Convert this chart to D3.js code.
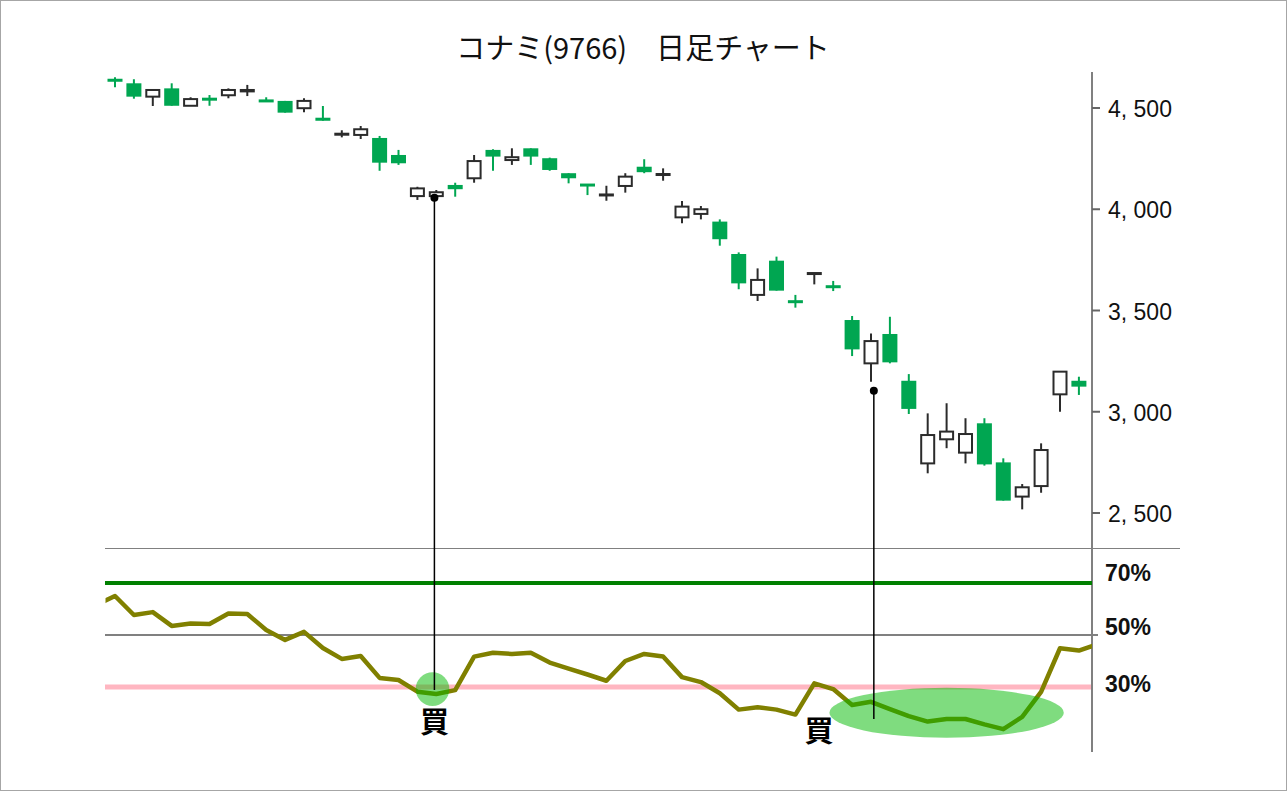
<!DOCTYPE html>
<html><head><meta charset="utf-8">
<script src="https://cdn.jsdelivr.net/npm/d3@7/dist/d3.min.js"></script>
<style>body{margin:0;background:#fff}svg{display:block}</style>
</head><body><svg id="c" width="1287" height="791"></svg>
<script>
// ---- data ----
const title = "コナミ(9766)　日足チャート";
const days = d3.range(0, 52);
const opens  = [4641,4622,4556,4597,4511,4547,4563,4582,4540,4535,4499,4452,4370,4367,4352,4268,4065,4065,4120,4153,4293,4243,4301,4252,4178,4122,4070,4115,4210,4171,3960,3977,3939,3779,3577,3746,3547,3680,3621,3453,3239,3384,3153,2745,2864,2798,2943,2750,2581,2633,3086,3153];
const highs  = [4652,4642,4592,4622,4553,4564,4597,4614,4553,4535,4548,4510,4390,4411,4362,4293,4111,4095,4131,4268,4296,4301,4301,4255,4178,4123,4116,4178,4247,4202,4041,4016,3950,3787,3708,3766,3577,3685,3646,3473,3387,3469,3186,2992,3042,2968,2968,2770,2643,2844,3198,3173];
const lows   = [4602,4546,4510,4511,4511,4511,4548,4559,4530,4477,4479,4437,4355,4347,4190,4219,4046,4057,4062,4131,4190,4219,4219,4190,4128,4070,4042,4082,4178,4141,3931,3950,3820,3605,3547,3598,3514,3629,3596,3275,3148,3239,2989,2696,2820,2745,2734,2561,2518,2600,3000,3083];
const closes = [4633,4556,4589,4511,4544,4540,4589,4589,4530,4477,4535,4437,4373,4395,4230,4227,4103,4084,4099,4238,4260,4257,4260,4194,4153,4117,4073,4161,4183,4174,4013,4000,3852,3634,3651,3598,3540,3685,3614,3308,3349,3244,3014,2885,2902,2890,2740,2561,2627,2811,3198,3124];
const priceTicks = [2500, 3000, 3500, 4000, 4500];
const priceTickLabels = ["2, 500", "3, 000", "3, 500", "4, 000", "4, 500"];
// oscillator (%), one day before and one day after the visible window included
const oscDays = d3.range(-1, 53);
const oscValues = [61.5,65.0,57.7,58.8,53.5,54.4,54.2,58.3,58.1,51.9,48.1,51.2,45.0,40.8,41.9,33.5,32.7,28.2,27.3,28.8,41.7,43.2,42.7,43.2,39.4,37.1,34.8,32.4,40.0,42.7,41.7,33.8,31.9,27.6,21.3,22.2,21.3,19.4,31.4,29.2,23.1,24.3,21.5,18.8,16.7,17.7,17.7,15.6,13.8,18.5,28.1,44.9,44.0,46.5];
const oscTicks = [70, 50, 30];
const oscTickLabels = ["70%", "50%", "30%"];
// buy signals: marker position (day, price), line end (%), label position (day, %)
const signalDays = [16.9, 40.15];
const signalPrices = [4057, 3104];
const signalEndPct = [28.8, 17.7];
const signalLabelDays = [16.9, 37.25];
const signalLabelPct = [15.3, 11.8];
// highlighted zones (day centre, %, radius in days, radius in %)
const zoneDays = [16.8, 44.0];
const zonePct = [29.2, 20.1];
const zoneRDays = [0.89, 6.2];
const zoneRPct = [6.5, 9.6];

// ---- scales ----
const svg = d3.select("#c");
const W = 1287, H = 791;
const x = d3.scaleLinear().domain([-0.5, 51.5]).range([105.55, 1088.35]);
const y = d3.scaleLinear().domain([2500, 4500]).range([513, 108]);
const yo = d3.scaleLinear().domain([30, 70]).range([687, 583]);
const axisX = 1092;
const bodyW = 15;

svg.append("rect").attr("x", 0.5).attr("y", 0.5).attr("width", W - 1).attr("height", H - 1)
  .attr("fill", "#fff").attr("stroke", "#a6a6a6");

// title
svg.append("text").attr("x", 643).attr("y", 51).attr("text-anchor", "middle")
  .attr("dominant-baseline", "middle")
  .style("font-family", "'Noto Sans CJK JP','Noto Sans',sans-serif").style("font-size", "29px")
  .attr("fill", "#111").text(title);

// separator line
svg.append("line").attr("x1", 105).attr("x2", 1180).attr("y1", 548.5).attr("y2", 548.5)
  .attr("stroke", "#808080").attr("stroke-width", 1);

// price axis
svg.append("line").attr("x1", axisX).attr("x2", axisX).attr("y1", 72).attr("y2", 752)
  .attr("stroke", "#808080").attr("stroke-width", 2);
const pAxis = svg.append("g");
pAxis.selectAll("line").data(priceTicks).join("line")
  .attr("x1", axisX).attr("x2", axisX + 8).attr("y1", d => y(d)).attr("y2", d => y(d))
  .attr("stroke", "#666").attr("stroke-width", 2);
pAxis.selectAll("text").data(priceTicks).join("text")
  .attr("x", 1108).attr("y", d => y(d) + 3).attr("dominant-baseline", "middle")
  .style("font-family", "'Liberation Sans',Arial,sans-serif").style("font-size", "23px")
  .attr("fill", "#111").text((d, i) => priceTickLabels[i]);

// candles
const cg = svg.append("g");
const green = "#00a651", dark = "#2b2b2b";
days.forEach(i => {
  const o = opens[i], c = closes[i], h = highs[i], l = lows[i];
  const down = c < o;
  const col = down ? green : dark;
  const cx = x(i);
  cg.append("line").attr("x1", cx).attr("x2", cx).attr("y1", y(h)).attr("y2", y(l))
    .attr("stroke", col).attr("stroke-width", 2);
  const top = y(Math.max(o, c)), bot = y(Math.min(o, c));
  if (down) {
    const hgt = Math.max(bot - top, 3);
    cg.append("rect").attr("x", cx - bodyW / 2).attr("y", (top + bot) / 2 - hgt / 2)
      .attr("width", bodyW).attr("height", hgt).attr("fill", green);
  } else {
    const hgt = Math.max(bot - top, 1);
    cg.append("rect").attr("x", cx - bodyW / 2 + 1).attr("y", top)
      .attr("width", bodyW - 2).attr("height", hgt)
      .attr("fill", "#fff").attr("stroke", dark).attr("stroke-width", 2);
  }
});

// oscillator reference lines
svg.append("line").attr("x1", 105).attr("x2", axisX).attr("y1", yo(70)).attr("y2", yo(70))
  .attr("stroke", "#008000").attr("stroke-width", 4);
svg.append("line").attr("x1", 105).attr("x2", 1098).attr("y1", yo(50)).attr("y2", yo(50))
  .attr("stroke", "#808080").attr("stroke-width", 2);
svg.append("line").attr("x1", 105).attr("x2", axisX - 1).attr("y1", yo(30)).attr("y2", yo(30))
  .attr("stroke", "#ffb6c1").attr("stroke-width", 5);

const oscLabelDy = [-8, -6, -1.5];
svg.selectAll("text.osc").data(oscTicks).join("text").attr("class", "osc")
  .attr("x", 1105).attr("y", (d, i) => yo(d) + oscLabelDy[i]).attr("dominant-baseline", "middle")
  .style("font-family", "'Liberation Sans',Arial,sans-serif").style("font-size", "23px")
  .style("font-weight", "bold").attr("fill", "#111").text((d, i) => oscTickLabels[i]);

// oscillator line
svg.append("clipPath").attr("id", "oclip").append("rect")
  .attr("x", 105.5).attr("y", 550).attr("width", axisX - 105.5).attr("height", 200);
const oscLine = d3.line().x((d, i) => x(oscDays[i])).y(d => yo(d));
svg.append("path").datum(oscValues).attr("d", oscLine).attr("clip-path", "url(#oclip)")
  .attr("fill", "none").attr("stroke", "#808000").attr("stroke-width", 4.5)
  .attr("stroke-linejoin", "round");

// zones
svg.selectAll("ellipse.zone").data(zoneDays).join("ellipse").attr("class", "zone")
  .attr("cx", d => x(d)).attr("cy", (d, i) => yo(zonePct[i]))
  .attr("rx", (d, i) => x(d + zoneRDays[i]) - x(d))
  .attr("ry", (d, i) => yo(zonePct[i] - zoneRPct[i]) - yo(zonePct[i]))
  .attr("fill", "rgba(0,185,0,0.5)");

// signals
signalDays.forEach((d, i) => {
  svg.append("line").attr("x1", x(d)).attr("x2", x(d))
    .attr("y1", y(signalPrices[i])).attr("y2", yo(signalEndPct[i]))
    .attr("stroke", "#000").attr("stroke-width", 1.5);
  svg.append("circle").attr("cx", x(d)).attr("cy", y(signalPrices[i])).attr("r", 4).attr("fill", "#000");
  svg.append("text").attr("x", x(signalLabelDays[i])).attr("y", yo(signalLabelPct[i]))
    .attr("text-anchor", "middle").attr("dominant-baseline", "middle")
    .style("font-family", "'Noto Sans CJK JP',sans-serif").style("font-size", "29px")
    .style("font-weight", "bold").attr("fill", "#000").text("買");
});
</script></body></html>
